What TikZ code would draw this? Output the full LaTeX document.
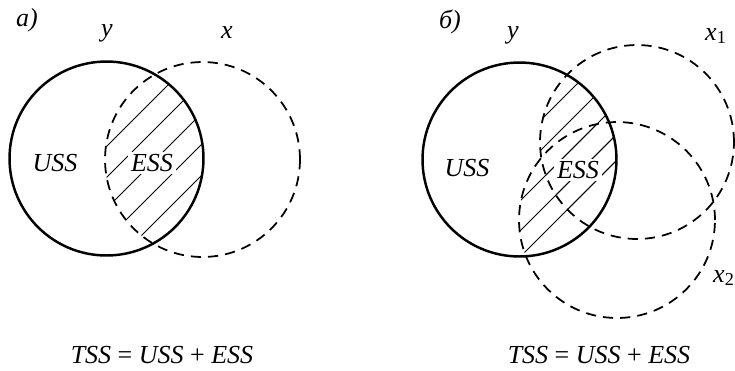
\documentclass[tikz,border=0pt]{standalone}
\usepackage{fontspec}
\setmainfont{Liberation Serif}
\usetikzlibrary{calc}

\begin{document}
\begin{tikzpicture}[
  x=0.02cm, y=-0.02cm,
  solidset/.style={line width=1.4pt},
  dashset/.style={line width=1pt,dash pattern=on 5.8pt off 4pt},
  hatch/.style={line width=0.5pt},
  lbl/.style={font=\fontsize{14.8}{16}\selectfont\itshape,inner sep=0pt},
  eqn/.style={font=\fontsize{14.8}{16}\selectfont,inner sep=0pt}
]
\useasboundingbox (0,0) rectangle (735,370);
% a) one regressor
\coordinate (ya) at (106.5,158.5);
\coordinate (xa) at (202.5,159.5);
\begin{scope}
  \clip (ya) circle [radius=1.94cm];
  \clip (xa) circle [radius=1.95cm];
  \foreach \c in {253,284,315,346,377}
    \draw[hatch] (\c-300,300) -- (\c,0);
\end{scope}
\draw[solidset] (ya) circle [radius=1.94cm];
\draw[dashset] (xa) circle [radius=1.95cm];
\node[lbl] (taga) at (27,20) {a)};
\node[lbl] (laby) at (107,33) {y};
\node[lbl] (labx) at (227,33) {x};
\node[lbl] (ussa) at (55,163) {USS};
\node[lbl,fill=white,inner sep=1.5pt] (essa) at (152,163) {ESS};
\node[eqn] (tssa) at (162,355) {\textit{TSS} = \textit{USS} + \textit{ESS}};
% b) two regressors
\coordinate (yb) at (519.5,159.5);
\coordinate (xb1) at (637,142);
\coordinate (xb2) at (617,220);
\begin{scope}
  \clip (yb) circle [radius=1.94cm];
  \begin{scope}
    \clip (xb1) circle [radius=1.94cm];
    \foreach \c in {661,691,721,751,777}
      \draw[hatch] (\c-330,330) -- (\c,0);
  \end{scope}
  \begin{scope}
    \clip (xb2) circle [radius=1.96cm];
    \foreach \c in {661,691,721,751,777}
      \draw[hatch] (\c-330,330) -- (\c,0);
  \end{scope}
\end{scope}
\draw[solidset] (yb) circle [radius=1.94cm];
\draw[dashset] (xb1) circle [radius=1.94cm];
\draw[dashset] (xb2) circle [radius=1.96cm];
\node[lbl] (tagb) at (450,22) {б)};
\node[lbl] (labyb) at (513,35) {y};
\node[lbl] (labx1) at (716,36) {x\textup{\textsubscript{1}}};
\node[lbl] (labx2) at (724,278) {x\textup{\textsubscript{2}}};
\node[lbl] (ussb) at (467,168) {USS};
\node[lbl,fill=white,inner sep=1.5pt] (essb) at (578,170) {ESS};
\node[eqn] (tssb) at (599,355) {\textit{TSS} = \textit{USS} + \textit{ESS}};
\end{tikzpicture}
\end{document}
